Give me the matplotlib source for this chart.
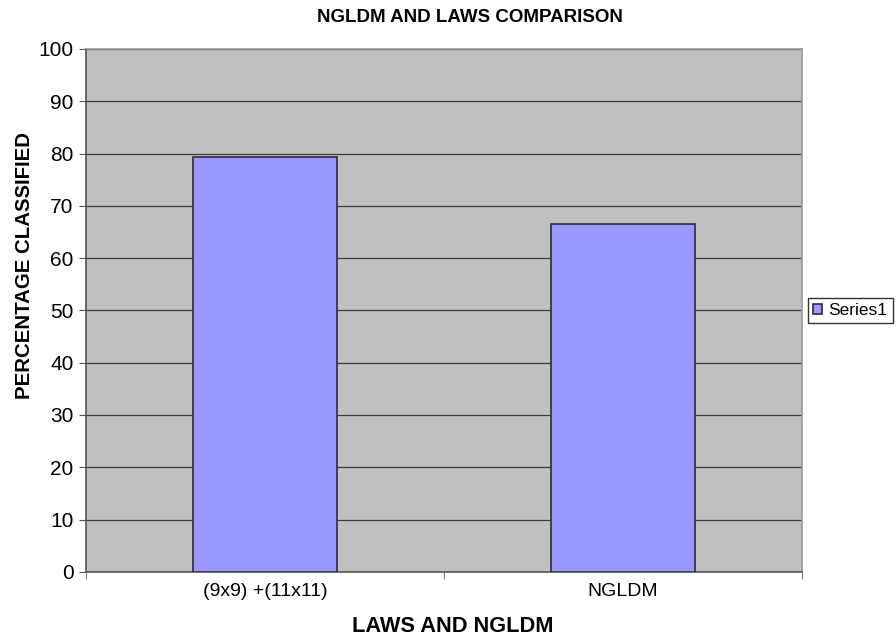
import matplotlib
matplotlib.use("Agg")
import matplotlib.pyplot as plt

categories = ["(9x9) +(11x11)", "NGLDM"]
values = [79.3, 66.5]
series_name = "Series1"

plt.rcParams["font.family"] = ["Liberation Sans", "DejaVu Sans"]

fig = plt.figure(figsize=(8.96, 6.44), dpi=100)
ax = fig.add_axes([0.096, 0.112, 0.799, 0.812])
ax.set_facecolor("#c0c0c0")

x = list(range(len(categories)))
ax.bar(x, values, width=0.4, color="#9999ff", edgecolor="#2b2b3f",
       linewidth=1.2, label=series_name, zorder=3)

ax.set_xlim(-0.5, len(categories) - 0.5)
ax.set_ylim(0, 100)
ax.set_yticks(range(0, 101, 10))
ax.yaxis.grid(True, color="#3a3a3a", linewidth=0.9, zorder=1)

# category labels centred, tick marks between categories
ax.set_xticks(x)
ax.set_xticklabels(categories, fontsize=14)
ax.tick_params(axis="x", length=0, pad=8)
ax.set_xticks([-0.5, 0.5, 1.5], minor=True)
ax.tick_params(axis="x", which="minor", length=5, color="#555555")
ax.tick_params(axis="y", labelsize=15, length=5, color="#555555", pad=4)

for side in ["top", "right"]:
    ax.spines[side].set_color("#9a9a9a")
    ax.spines[side].set_linewidth(1.2)
for side in ["left", "bottom"]:
    ax.spines[side].set_color("#555555")
    ax.spines[side].set_linewidth(1.2)

fig.text(0.525, 1 - 18 / 644, "NGLDM AND LAWS COMPARISON", fontsize=13.5,
         fontweight="bold", ha="center", va="center")
ax.set_xlabel("LAWS AND NGLDM", fontsize=15.7, fontweight="bold")
ax.xaxis.set_label_coords(0.512, -0.105)
ax.xaxis.label.set_va("center")
ax.set_ylabel("PERCENTAGE CLASSIFIED", fontsize=14.7, fontweight="bold")
ax.yaxis.set_label_coords(-0.072, 0.586)

leg = ax.legend(loc="center left", bbox_to_anchor=(1.008, 0.5), fontsize=12.5,
                frameon=True, fancybox=False, handlelength=0.55, handleheight=0.55,
                handletextpad=0.35, borderpad=0.3, borderaxespad=0)
leg.get_frame().set_edgecolor("#000000")
leg.get_frame().set_linewidth(1.0)

fig.savefig("out.png", dpi=100)
